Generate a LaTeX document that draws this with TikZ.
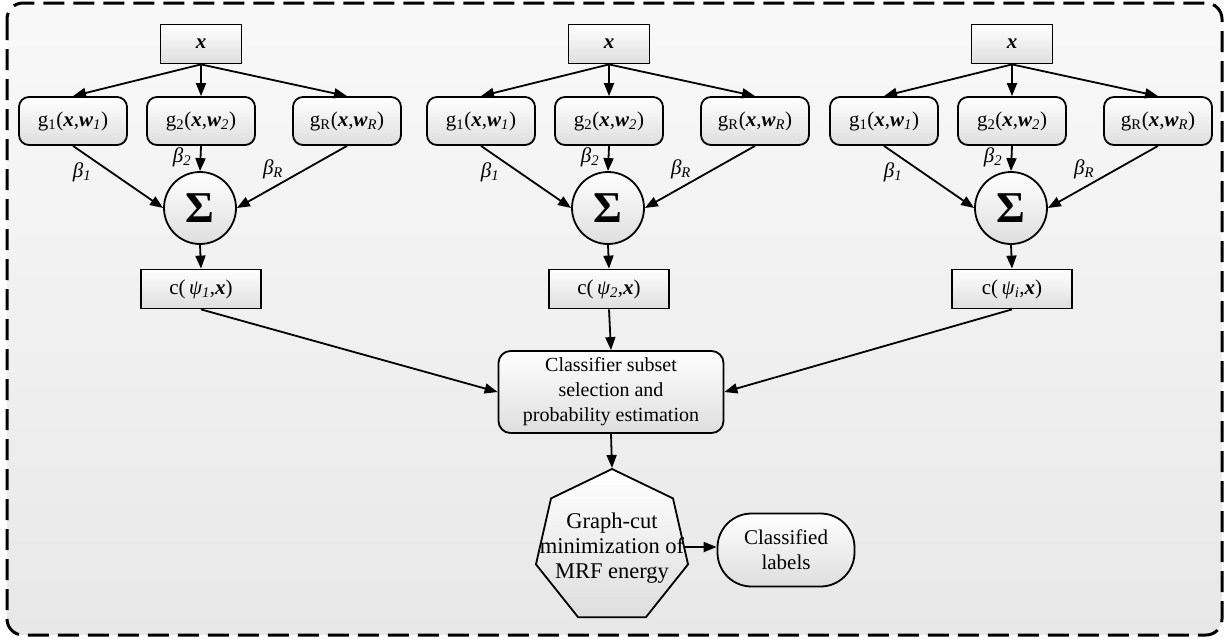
\documentclass[tikz,border=0pt]{standalone}
\usepackage{fontspec}
\setmainfont{Liberation Serif}
\usetikzlibrary{shapes.geometric,arrows.meta}
\definecolor{bgtop}{gray}{0.975}
\definecolor{bgbot}{gray}{0.91}
\definecolor{boxbot}{gray}{0.87}
\tikzset{
  base/.style={draw=black, line width=1.8pt, top color=white, bottom color=boxbot,
    font=\fontsize{21}{25}\selectfont, inner sep=0pt, align=center},
  xbox/.style={base, rectangle, minimum width=81pt, minimum height=39pt},
  gbox/.style={base, rectangle, rounded corners=10pt, minimum width=108pt, minimum height=48pt},
  sumnode/.style={base, circle, minimum size=72pt, font=\fontsize{44}{44}\selectfont},
  cbox/.style={base, rectangle, minimum width=120pt, minimum height=39pt},
  clsbox/.style={base, rectangle, rounded corners=12pt, minimum width=225pt, minimum height=82pt, font=\fontsize{20}{25}\selectfont},
  hept/.style={base, regular polygon, regular polygon sides=7, minimum size=156pt},
  labbox/.style={base, rectangle, rounded corners=34pt, minimum width=137pt, minimum height=73pt},
  blabel/.style={font=\fontsize{21}{25}\selectfont, inner sep=0pt},
  plain/.style={font=\fontsize{22.5}{25}\selectfont, inner sep=0pt, align=center},
  arr/.style={line width=1.8pt, -{Triangle[length=13pt,width=10pt]}},
}
\begin{document}
\begin{tikzpicture}[x=1pt,y=-1pt]
\useasboundingbox (0,0) rectangle (1232,641);
\fill[white] (0,0) rectangle (1232,641);
\shade[top color=bgtop, bottom color=bgbot, rounded corners=16pt] (7,3) rectangle (1222,635);
\draw[line width=3pt, dash pattern=on 21pt off 9pt, rounded corners=16pt] (7,3) rectangle (1222,635);

\foreach \i/\cx/\s in {1/201/1, 2/609/2, 3/1012/i} {
  \node[xbox] (x\i) at (\cx,44) {\textbf{\textit{x}}};
  \node[gbox] (ga\i) at (\cx-128,121) {g\textsubscript{1}(\textbf{\textit{x}},\textbf{\textit{w}}\textsubscript{\textit{1}})};
  \node[gbox] (gb\i) at (\cx,121) {g\textsubscript{2}(\textbf{\textit{x}},\textbf{\textit{w}}\textsubscript{\textit{2}})};
  \node[gbox] (gc\i) at (\cx+146,121) {g\textsubscript{R}(\textbf{\textit{x}},\textbf{\textit{w}}\textsubscript{\textit{R}})};
  \node[sumnode] (s\i) at (\cx-1,208) {\textbf{Σ}};
  \node[cbox] (c\i) at (\cx,289) {c(\,\textit{ψ\textsubscript{\s}},\textbf{\textit{x}})};
  \node[blabel] (b1\i) at (\cx-119,172) {\textit{β\textsubscript{1}}};
  \node[blabel] (b2\i) at (\cx-19,157) {\textit{β\textsubscript{2}}};
  \node[blabel] (b3\i) at (\cx+72,169) {\textit{β\textsubscript{R}}};
  \draw[arr] (x\i.south) -- (ga\i.north);
  \draw[arr] (x\i.south) -- (gb\i.north);
  \draw[arr] (x\i.south) -- (gc\i.north);
  \draw[arr] (ga\i.south) -- (s\i.west);
  \draw[arr] (gb\i.south) -- (s\i.north);
  \draw[arr] (gc\i.south) -- (s\i.east);
  \draw[arr] (s\i.south) -- (c\i.north);
}

\node[clsbox] (cls) at (611,392) {Classifier subset\\selection and\\probability estimation};
\node[hept] (hep) at (612,547) {};
\node[plain] (heptext) at (612,548) {Graph-cut\\minimization of\\MRF energy};
\node[labbox] (lab) at (786,550) {Classified\\labels};

\draw[arr] (c1.south) -- (cls.west);
\draw[arr] (c2.south) -- (cls.north);
\draw[arr] (c3.south) -- (cls.east);
\draw[arr] (cls.south) -- (hep.north);
\draw[arr] (hep.east) -- (hep.east -| lab.west);
\end{tikzpicture}
\end{document}
